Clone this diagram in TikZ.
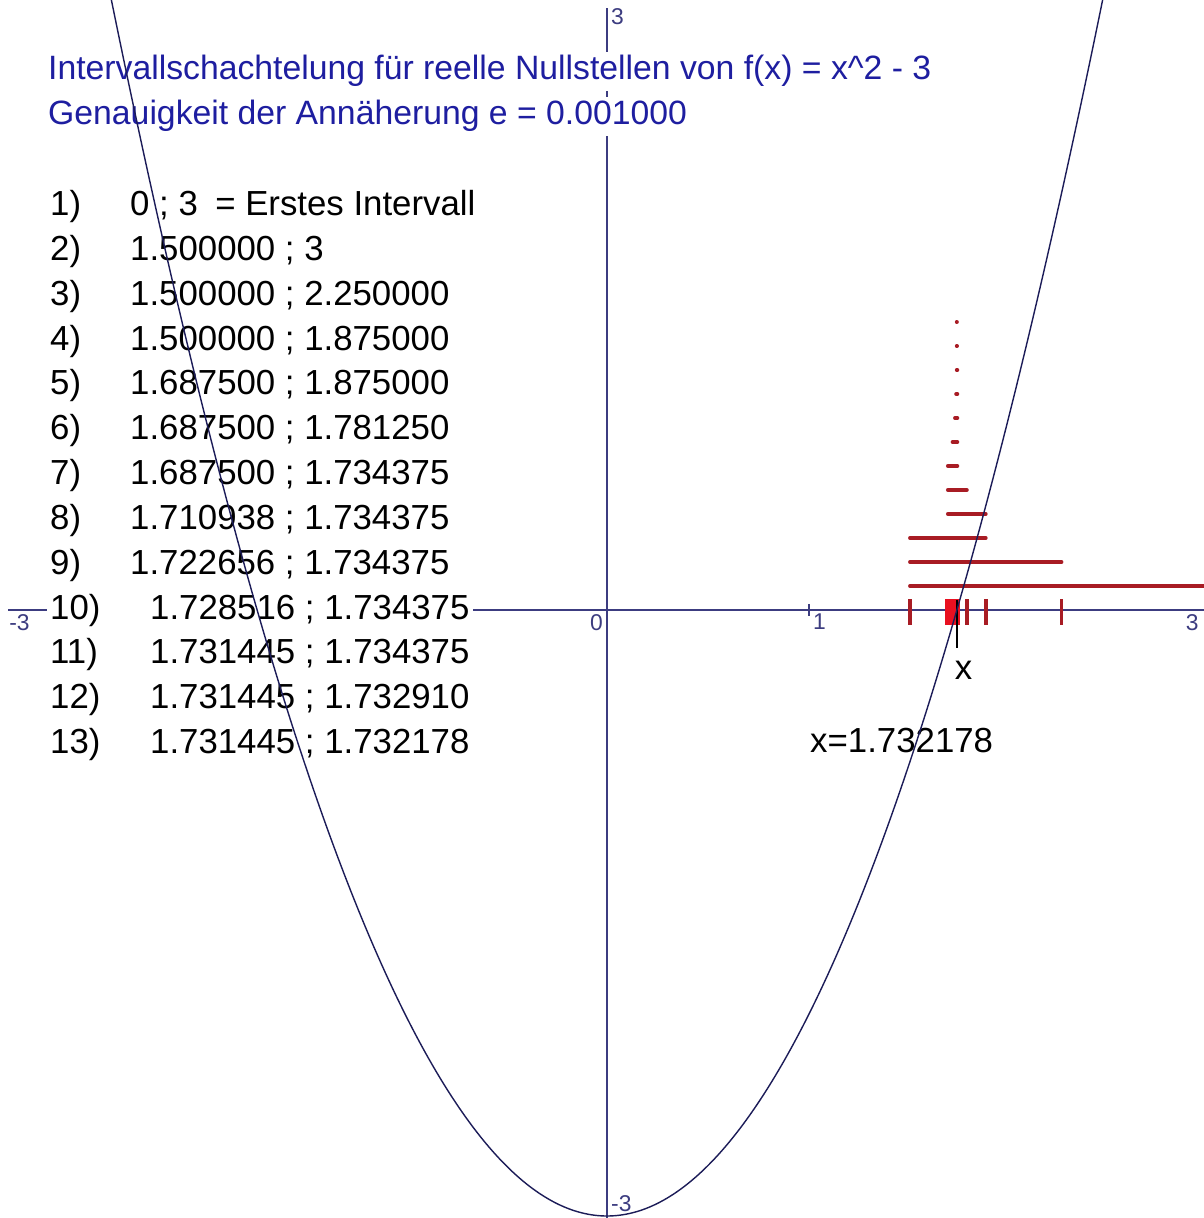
\documentclass[tikz,border=0pt]{standalone}
\usepackage{fontspec}
\setmainfont{Liberation Sans}
\definecolor{axisblue}{HTML}{3C3C80}
\definecolor{curveblue}{HTML}{1C1C58}
\definecolor{titleblue}{HTML}{1E1EA0}
\definecolor{barred}{HTML}{A81C24}
\definecolor{hotred}{HTML}{E81020}
\tikzset{
  axisline/.style={draw=axisblue,line width=0.5pt},
  ticklabel/.style={text=axisblue,font=\fontsize{6.5}{7}\selectfont,inner sep=1pt},
  rowtext/.style={anchor=base west,fill=white,inner sep=1pt,font=\fontsize{9.9}{12}\selectfont},
  titletext/.style={rowtext,text=titleblue,font=\fontsize{9.6}{12}\selectfont},
  barline/.style={draw=barred,line width=1.1pt,line cap=round},
  endtick/.style={draw=barred,line width=1.1pt},
  hottick/.style={draw=hotred,line width=1.4pt},
}
\begin{document}
\begin{tikzpicture}
\useasboundingbox (0,0) rectangle (12.04,12.18);
\begin{scope}[shift={(6.07,6.08)},x=2.02cm,y=2.02cm]
  % axes
  \coordinate (xl) at (-2.965,0);
  \coordinate (xr) at (3,0);
  \coordinate (yt) at (0,2.98);
  \coordinate (yb) at (0,-3.02);
  \draw[axisline] (xl) -- (xr);
  \draw[axisline] (yb) -- (yt);
  \coordinate (t1a) at (1,0.03);
  \coordinate (t1b) at (1,-0.03);
  \draw[axisline] (t1a) -- (t1b);
  \node[ticklabel,below right] (lxm) at (-2.98,0) {-3};
  \node[ticklabel,below left] (lxo) at (0,0) {0};
  \node[ticklabel,below right] (lx1) at (1,0) {1};
  \node[ticklabel,below left] (lx3) at (2.95,0) {3};
  \node[ticklabel,below right] (ly3) at (0,3) {3};
  \node[ticklabel,above right] (lym) at (0,-3) {-3};
\end{scope}
% texts
\node[titletext] (title) at (0.44,11.38) {Intervallschachtelung für reelle Nullstellen von f(x) = x\textasciicircum 2 - 3};
\node[titletext] (eps) at (0.44,10.93) {Genauigkeit der Annäherung e = 0.001000};
\foreach \k/\w/\txt in {1/0.8/{0 ; 3\enspace = Erstes Intervall},
                        2/0.8/{1.500000 ; 3},
                        3/0.8/{1.500000 ; 2.250000},
                        4/0.8/{1.500000 ; 1.875000},
                        5/0.8/{1.687500 ; 1.875000},
                        6/0.8/{1.687500 ; 1.781250},
                        7/0.8/{1.687500 ; 1.734375},
                        8/0.8/{1.710938 ; 1.734375},
                        9/0.8/{1.722656 ; 1.734375},
                        10/1.0/{1.728516 ; 1.734375},
                        11/1.0/{1.731445 ; 1.734375},
                        12/1.0/{1.731445 ; 1.732910},
                        13/1.0/{1.731445 ; 1.732178}}
  \node[rowtext] (row\k) at (0.46,{10.025-(\k-1)*0.4485}) {\makebox[\w cm][l]{\k)}\txt};
\node[rowtext,fill=none] (result) at (8.06,4.65) {x=1.732178};
\begin{scope}[shift={(6.07,6.08)},x=2.02cm,y=2.02cm]
  % intervals
  \foreach \k/\a/\b in {2/1.5/3,3/1.5/2.25,4/1.5/1.875,5/1.6875/1.875,
                        6/1.6875/1.78125,7/1.6875/1.734375,8/1.710938/1.734375,
                        9/1.722656/1.734375,10/1.728516/1.734375,11/1.731445/1.734375,
                        12/1.731445/1.732910,13/1.731445/1.732178}
    \draw[barline] ({\a},{(\k-1)*0.1188}) -- ({\b},{(\k-1)*0.1188});
  \foreach \p in {1.5,2.25,1.875,1.78125}
    \draw[endtick] (\p,0.054) -- (\p,-0.074);
  \foreach \p in {1.6875,1.710938,1.722656,1.728516,1.731445,1.732178,1.732910,1.734375}
    \draw[hottick] (\p,0.054) -- (\p,-0.074);
  % root
  \coordinate (roottop) at (1.732178,0.05);
  \coordinate (rootend) at (1.732178,-0.19);
  \draw[black,line width=0.35pt] (roottop) -- (rootend);
  \node[inner sep=0pt,font=\fontsize{9.9}{12}\selectfont] (xlab) at (1.765,-0.3) {x};
  % curve
  \clip (-3.005,-3.01) rectangle (2.955,3.02);
  \draw[curveblue,line width=0.4pt] plot[domain=-2.47:2.47,samples=200,smooth] (\x,{\x*\x-3});
\end{scope}
\end{tikzpicture}
\end{document}
